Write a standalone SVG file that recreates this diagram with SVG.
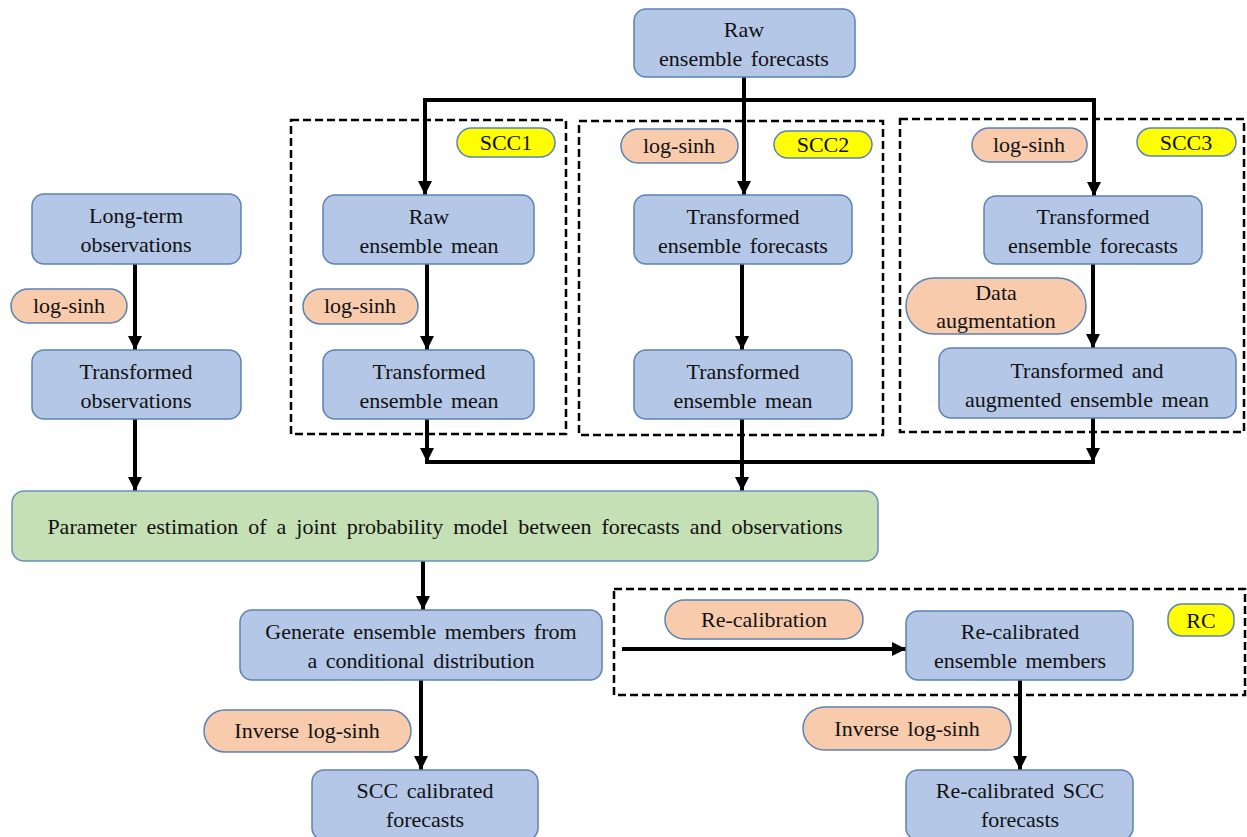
<svg xmlns="http://www.w3.org/2000/svg" width="1247" height="837" viewBox="0 0 1247 837">
<defs>
<marker id="ah" viewBox="0 0 10 10" refX="10" refY="5" markerWidth="3.5" markerHeight="3.5" orient="auto" markerUnits="strokeWidth">
<path d="M0,0 L10,5 L0,10 Z" fill="#000"/>
</marker>
<style>
.box{fill:#B4C7E7;stroke:#5B82B5;stroke-width:1.5}
.green{fill:#C5E0B4;stroke:#6A8FC0;stroke-width:1.5}
.or{fill:#F8CBAD;stroke:#5B82B5;stroke-width:1.5}
.ye{fill:#FFFF00;stroke:#5B82B5;stroke-width:1.5}
.dash{fill:none;stroke:#000;stroke-width:2.5;stroke-dasharray:8,4}
.t{font-family:'Liberation Serif','Times New Roman',Times,Tinos,'Noto Serif','DejaVu Serif',FreeSerif,serif;font-size:22px;fill:#111;text-anchor:middle;word-spacing:3px}
.wide{word-spacing:4.5px}
.c{fill:none;stroke:#000;stroke-width:4}
.ca{fill:none;stroke:#000;stroke-width:4;marker-end:url(#ah)}
</style>
</defs>
<rect width="1247" height="837" fill="#fff"/>

<g id="groups">
<rect id="scc1-frame" class="dash" x="291" y="120" width="275" height="314"/>
<rect id="scc2-frame" class="dash" x="579" y="121" width="304" height="314"/>
<rect id="scc3-frame" class="dash" x="900" y="119" width="344" height="313"/>
<rect id="rc-frame" class="dash" x="614" y="589" width="631" height="106"/>
</g>

<g id="connectors">
<path class="c" d="M425,100 H1094"/>
<path class="ca" d="M744,77 V195"/>
<path class="ca" d="M425,98 V195"/>
<path class="ca" d="M1094,98 V196"/>
<path class="ca" d="M135,264 V350"/>
<path class="ca" d="M135,419 V491"/>
<path class="ca" d="M427,264 V350"/>
<path class="ca" d="M742,264 V350"/>
<path class="ca" d="M1093,264 V348"/>
<path class="ca" d="M427,419 V462"/>
<path class="ca" d="M1093,418 V462"/>
<path class="c" d="M425,462 H1095"/>
<path class="ca" d="M742,419 V491"/>
<path class="ca" d="M423,561 V610"/>
<path class="ca" d="M622,649 H906"/>
<path class="ca" d="M421,680 V770"/>
<path class="ca" d="M1020,680 V770"/>
</g>

<g id="n-raw"><rect class="box" x="634" y="9" width="221" height="68" rx="12"/><text class="t" x="744" y="37">Raw</text><text class="t" x="744" y="66">ensemble forecasts</text></g>
<g id="n-longterm"><rect class="box" x="32" y="194" width="209" height="70" rx="12"/><text class="t" x="136" y="223">Long-term</text><text class="t" x="136" y="252">observations</text></g>
<g id="n-transobs"><rect class="box" x="32" y="350" width="209" height="69" rx="12"/><text class="t" x="136" y="379">Transformed</text><text class="t" x="136" y="408">observations</text></g>
<g id="n-rawmean"><rect class="box" x="323" y="195" width="211" height="69" rx="12"/><text class="t" x="429" y="224">Raw</text><text class="t" x="429" y="253">ensemble mean</text></g>
<g id="n-transmean1"><rect class="box" x="323" y="350" width="211" height="69" rx="12"/><text class="t" x="429" y="379">Transformed</text><text class="t" x="429" y="408">ensemble mean</text></g>
<g id="n-transfc2"><rect class="box" x="634" y="195" width="218" height="69" rx="12"/><text class="t" x="743" y="224">Transformed</text><text class="t" x="743" y="253">ensemble forecasts</text></g>
<g id="n-transmean2"><rect class="box" x="634" y="350" width="218" height="69" rx="12"/><text class="t" x="743" y="379">Transformed</text><text class="t" x="743" y="408">ensemble mean</text></g>
<g id="n-transfc3"><rect class="box" x="984" y="196" width="218" height="68" rx="12"/><text class="t" x="1093" y="224">Transformed</text><text class="t" x="1093" y="253">ensemble forecasts</text></g>
<g id="n-augmean"><rect class="box" x="939" y="348" width="297" height="70" rx="12"/><text class="t" x="1087" y="378">Transformed and</text><text class="t" x="1087" y="407">augmented ensemble mean</text></g>
<g id="n-param"><rect class="green" x="12" y="491" width="866" height="70" rx="12"/><text class="t wide" x="445" y="534">Parameter estimation of a joint probability model between forecasts and observations</text></g>
<g id="n-generate"><rect class="box" x="240" y="610" width="362" height="70" rx="12"/><text class="t" x="421" y="639">Generate ensemble members from</text><text class="t" x="421" y="668">a conditional distribution</text></g>
<g id="n-scccal"><rect class="box" x="312" y="770" width="226" height="70" rx="12"/><text class="t" x="425" y="798">SCC calibrated</text><text class="t" x="425" y="827">forecasts</text></g>
<g id="n-recalmem"><rect class="box" x="906" y="611" width="227" height="69" rx="12"/><text class="t" x="1020" y="639">Re-calibrated</text><text class="t" x="1020" y="668">ensemble members</text></g>
<g id="n-recalscc"><rect class="box" x="906" y="770" width="227" height="70" rx="12"/><text class="t" x="1020" y="798">Re-calibrated SCC</text><text class="t" x="1020" y="827">forecasts</text></g>

<g id="l-scc1"><rect class="ye" x="457" y="128" width="98" height="29" rx="14.5"/><text class="t" x="506" y="150">SCC1</text></g>
<g id="l-scc2"><rect class="ye" x="774" y="131" width="98" height="27" rx="13.5"/><text class="t" x="823" y="152">SCC2</text></g>
<g id="l-scc3"><rect class="ye" x="1137" y="128" width="99" height="28" rx="14"/><text class="t" x="1186" y="150">SCC3</text></g>
<g id="l-rc"><rect class="ye" x="1168" y="604" width="66" height="32" rx="14"/><text class="t" x="1201" y="628">RC</text></g>

<g id="l-logsinh2"><rect class="or" x="621" y="129" width="117" height="34" rx="17"/><text class="t" x="679" y="153">log-sinh</text></g>
<g id="l-logsinh3"><rect class="or" x="972" y="128" width="115" height="34" rx="17"/><text class="t" x="1029" y="152">log-sinh</text></g>
<g id="l-logsinh-obs"><rect class="or" x="11" y="289" width="116" height="34" rx="17"/><text class="t" x="69" y="313">log-sinh</text></g>
<g id="l-logsinh1"><rect class="or" x="303" y="289" width="115" height="35" rx="17.5"/><text class="t" x="360" y="313">log-sinh</text></g>
<g id="l-dataaug"><rect class="or" x="906" y="278" width="180" height="56" rx="28"/><text class="t" x="996" y="300">Data</text><text class="t" x="996" y="328">augmentation</text></g>
<g id="l-recal"><rect class="or" x="665" y="600" width="198" height="39" rx="19.5"/><text class="t" x="764" y="627">Re-calibration</text></g>
<g id="l-inv1"><rect class="or" x="204" y="710" width="207" height="42" rx="21"/><text class="t" x="307" y="738">Inverse log-sinh</text></g>
<g id="l-inv2"><rect class="or" x="803" y="707" width="208" height="43" rx="21.5"/><text class="t" x="907" y="736">Inverse log-sinh</text></g>
</svg>
